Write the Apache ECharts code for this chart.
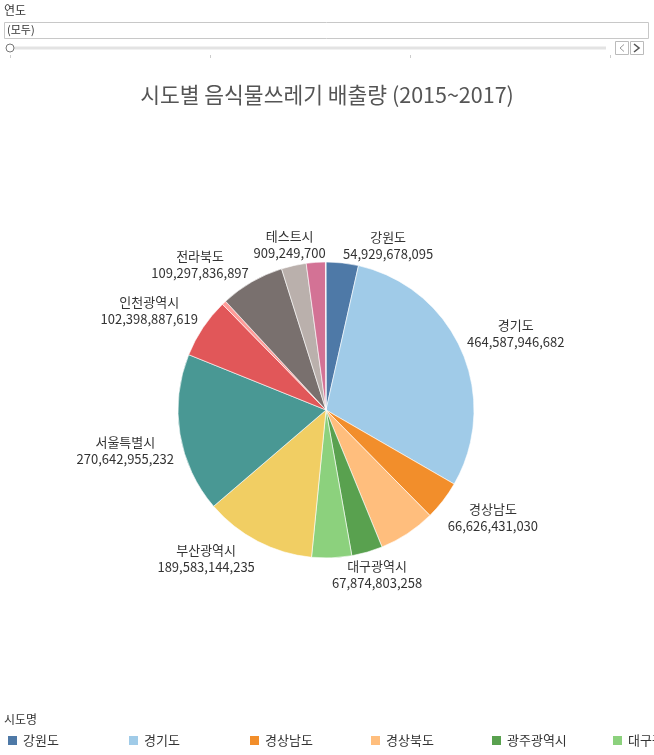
<!DOCTYPE html>
<html>
<head>
<meta charset="utf-8">
<script src="https://cdn.jsdelivr.net/npm/echarts@6/dist/echarts.min.js"></script>
<style>
  html, body { margin: 0; padding: 0; background: #fff; }
  #main { width: 654px; height: 755px; }
</style>
</head>
<body>
<div id="main"></div>
<script>
// 시도명 (범례 순서 = 파이 순서)
var regions = ['강원도', '경기도', '경상남도', '경상북도', '광주광역시', '대구광역시', '부산광역시',
  '서울특별시', '인천광역시', '전라남도', '전라북도', '제주특별자치도', '충청남도', '테스트시'];
// 배출량 (라벨 없는 조각은 그림에서 어림잡은 값)
var amounts = [54929678095, 464587946682, 66626431030, 96800000000, 52700000000, 67874803258, 189583144235,
  270642955232, 102398887619, 7300000000, 109297836897, 42300000000, 32400000000, 909249700];
// 라벨이 보이는 시도
var labeled = ['강원도', '경기도', '경상남도', '대구광역시', '부산광역시', '서울특별시', '인천광역시', '전라북도', '테스트시'];
// 연도 슬라이더 눈금 위치 (비율)
var yearTicks = [0, 1 / 3, 2 / 3, 1];

var font = 'Noto Sans CJK KR';
var palette = ['#4e79a7', '#a0cbe8', '#f28e2b', '#ffbe7d', '#59a14f', '#8cd17d', '#f1ce63',
  '#499894', '#e15759', '#ff9d9a', '#79706e', '#bab0ac', '#d37295', '#fabfd2'];
var pieCenter = [326, 410], pieRadius = 148, labelGap = 6;
var legendStep = 121;

var pieData = regions.map(function (r, i) {
  return {
    name: r,
    value: amounts[i],
    label: { show: labeled.indexOf(r) >= 0 }
  };
});

// 조각 가운데 각도 (12시 방향부터 시계방향, 라디안)
var total = amounts.reduce(function (a, b) { return a + b; }, 0);
var midAngles = [];
var acc = 0;
amounts.forEach(function (v) {
  midAngles.push((acc + v / 2) / total * Math.PI * 2);
  acc += v;
});

// 범례: 항목마다 같은 간격 (Tableau 범례처럼)
var legends = regions.map(function (r, i) {
  return {
    left: 6 + legendStep * i,
    top: 734,
    padding: 0,
    icon: 'rect',
    itemWidth: 11,
    itemHeight: 11,
    itemGap: 5,
    data: [r],
    textStyle: { fontFamily: font, fontSize: 13, color: '#333' }
  };
});

// 상단 연도 필터 (Tableau 컨트롤 모양)
var trackX = 14, trackW = 592;
var graphics = [
  { type: 'text', left: 4, top: 4, style: { text: '연도', font: '12px "' + font + '"', fill: '#333' } },
  { type: 'rect', shape: { x: 4.5, y: 22.5, width: 644, height: 16 }, style: { fill: '#fff', stroke: '#c8c8c8', lineWidth: 1 } },
  { type: 'text', left: 7, top: 24, style: { text: '(모두)', font: '11px "' + font + '"', fill: '#333' } },
  { type: 'rect', shape: { x: trackX, y: 46.5, width: trackW, height: 3 }, style: { fill: '#e3e3e3' } },
  { type: 'circle', shape: { cx: 10, cy: 48, r: 4 }, style: { fill: '#fff', stroke: '#777', lineWidth: 1 } },
  { type: 'rect', shape: { x: 615.5, y: 41.5, width: 13, height: 13 }, style: { fill: '#fff', stroke: '#bbb', lineWidth: 1 } },
  { type: 'rect', shape: { x: 630.5, y: 41.5, width: 13, height: 13 }, style: { fill: '#fff', stroke: '#bbb', lineWidth: 1 } },
  { type: 'polyline', shape: { points: [[624, 44.5], [620, 48], [624, 51.5]] }, style: { stroke: '#999', lineWidth: 1, fill: null } },
  { type: 'polyline', shape: { points: [[634, 44], [639, 48], [634, 52]] }, style: { stroke: '#555', lineWidth: 1.6, fill: null } },
  { type: 'text', left: 4, top: 713, style: { text: '시도명', font: '12px "' + font + '"', fill: '#333' } }
];
yearTicks.forEach(function (t) {
  var x = Math.round(10 + t * 600) + 0.5;
  graphics.push({ type: 'line', shape: { x1: x, y1: 55, x2: x, y2: 58 }, style: { stroke: '#ccc', lineWidth: 1 } });
});

var myChart = echarts.init(document.getElementById('main'));
myChart.setOption({
  color: palette,
  textStyle: { fontFamily: font },
  animation: false,
  title: {
    text: '시도별 음식물쓰레기 배출량 (2015~2017)',
    left: 'center',
    top: 79,
    textStyle: { fontFamily: font, fontSize: 21.5, fontWeight: 'normal', color: '#555' }
  },
  legend: legends,
  graphic: graphics,
  series: [{
    name: '배출량',
    type: 'pie',
    center: pieCenter,
    radius: [0, pieRadius],
    startAngle: 90,
    clockwise: true,
    avoidLabelOverlap: false,
    itemStyle: { borderColor: '#fff', borderWidth: 0.6 },
    label: {
      position: 'outside',
      fontFamily: font,
      fontSize: 13,
      color: '#333',
      lineHeight: 17,
      formatter: function (p) {
        return p.name + '\n' + p.value.toLocaleString('en-US');
      }
    },
    labelLine: { show: false },
    // 조각 바깥쪽 모서리에 라벨 상자를 붙임 (Tableau 방식)
    labelLayout: function (p) {
      var a = midAngles[p.dataIndex];
      var s = Math.sin(a), c = Math.cos(a);
      var px = pieCenter[0] + (pieRadius + labelGap) * s, py = pieCenter[1] - pieRadius * c;
      var w = p.labelRect.width, h = p.labelRect.height;
      return {
        x: px + (s >= 0 ? 1 : -1) * w / 2,
        y: py + (c >= 0 ? -1 : 1) * h / 2,
        align: 'center',
        verticalAlign: 'middle'
      };
    },
    emphasis: { disabled: true },
    data: pieData
  }]
});
</script>
</body>
</html>
